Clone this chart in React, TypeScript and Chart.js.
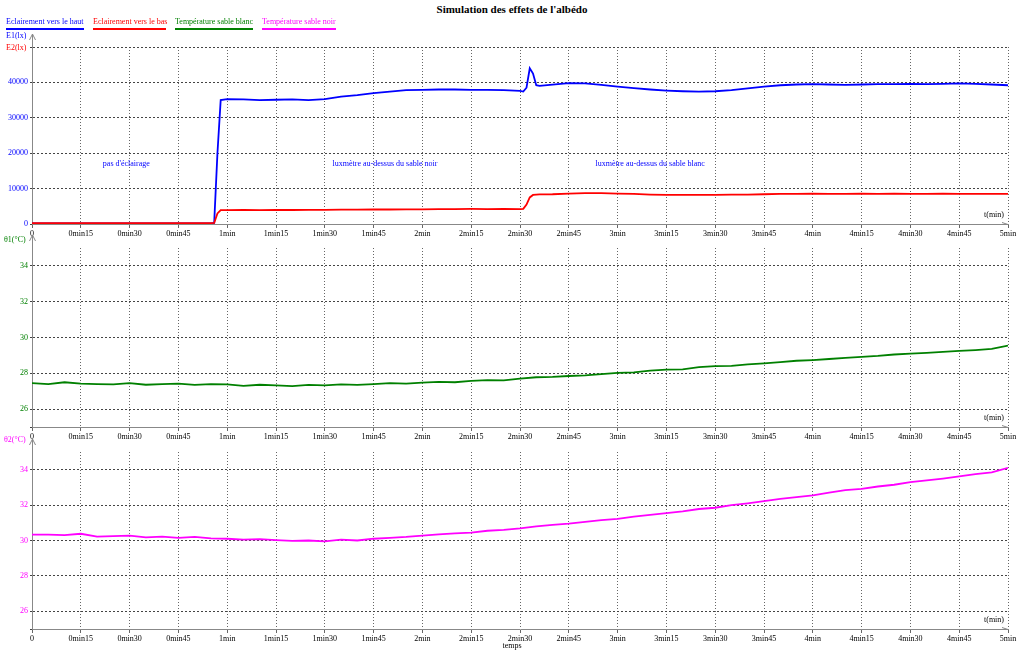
import { useEffect, useRef } from "react";
import { Chart, registerables } from "chart.js";

Chart.register(...registerables);

const FONT = '"Liberation Serif", "Times New Roman", serif';

// ---------- DATA ----------
const timeE = [0, 5, 10, 15, 20, 25, 30, 35, 40, 45, 50, 55, 56, 57, 58, 60, 65, 70, 75, 80, 85, 90, 95, 100, 105, 110, 115, 120, 125, 130, 135, 140, 145, 150, 151, 152, 153, 154, 155, 156, 160, 165, 170, 175, 180, 185, 190, 195, 200, 205, 210, 215, 220, 225, 230, 235, 240, 245, 250, 255, 260, 265, 270, 275, 280, 285, 290, 295, 300];

const e1Values = [150, 150, 160, 150, 150, 160, 150, 150, 160, 150, 150, 160, 300, 20000, 35000, 35300, 35200, 35000, 35100, 35200, 35000, 35300, 36000, 36400, 37000, 37400, 37800, 37900, 38000, 38000, 37900, 37900, 37800, 37600, 37400, 38500, 44000, 42500, 39200, 39000, 39400, 39800, 39700, 39300, 38800, 38400, 38000, 37700, 37500, 37400, 37500, 37800, 38300, 38800, 39200, 39400, 39500, 39400, 39300, 39400, 39500, 39500, 39600, 39500, 39600, 39700, 39600, 39400, 39200];

const e2Values = [250, 260, 240, 260, 250, 240, 260, 250, 240, 260, 250, 250, 300, 3000, 3900, 3900, 3950, 3900, 3950, 3950, 4000, 4000, 4050, 4050, 4100, 4100, 4150, 4150, 4200, 4200, 4250, 4200, 4300, 4200, 4300, 5500, 7500, 8200, 8300, 8350, 8400, 8600, 8700, 8700, 8600, 8500, 8300, 8200, 8200, 8200, 8200, 8300, 8300, 8400, 8500, 8500, 8600, 8500, 8500, 8600, 8500, 8600, 8500, 8500, 8600, 8500, 8500, 8500, 8500];

const timeT = [0, 5, 10, 15, 20, 25, 30, 35, 40, 45, 50, 55, 60, 65, 70, 75, 80, 85, 90, 95, 100, 105, 110, 115, 120, 125, 130, 135, 140, 145, 150, 155, 160, 165, 170, 175, 180, 185, 190, 195, 200, 205, 210, 215, 220, 225, 230, 235, 240, 245, 250, 255, 260, 265, 270, 275, 280, 285, 290, 295, 300];

const theta1Values = [27.45, 27.40, 27.50, 27.42, 27.40, 27.38, 27.45, 27.36, 27.40, 27.42, 27.35, 27.40, 27.38, 27.30, 27.36, 27.33, 27.28, 27.35, 27.32, 27.38, 27.35, 27.40, 27.45, 27.42, 27.48, 27.52, 27.50, 27.58, 27.62, 27.60, 27.70, 27.78, 27.80, 27.85, 27.88, 27.95, 28.02, 28.05, 28.15, 28.20, 28.22, 28.35, 28.40, 28.42, 28.50, 28.55, 28.62, 28.70, 28.74, 28.80, 28.86, 28.92, 28.97, 29.05, 29.10, 29.14, 29.20, 29.25, 29.30, 29.36, 29.55];

const theta2Values = [30.33, 30.33, 30.30, 30.38, 30.22, 30.25, 30.28, 30.18, 30.22, 30.15, 30.20, 30.12, 30.10, 30.05, 30.08, 30.02, 29.98, 30.00, 29.95, 30.05, 30.00, 30.10, 30.15, 30.20, 30.28, 30.35, 30.40, 30.45, 30.55, 30.60, 30.68, 30.80, 30.88, 30.95, 31.05, 31.15, 31.22, 31.35, 31.45, 31.55, 31.65, 31.78, 31.85, 32.00, 32.10, 32.22, 32.35, 32.45, 32.55, 32.70, 32.85, 32.92, 33.05, 33.15, 33.30, 33.40, 33.50, 33.62, 33.75, 33.85, 34.10];

const xTickValues = [0, 15, 30, 45, 60, 75, 90, 105, 120, 135, 150, 165, 180, 195, 210, 225, 240, 255, 270, 285, 300];
const eTickValues = [0, 10000, 20000, 30000, 40000, 50000];
const thetaTickValues = [25, 26, 28, 30, 32, 34, 35];

const legendLabels = ["Eclairement vers le haut", "Eclairement vers le bas", "Température sable blanc", "Température sable noir"];
const seriesColors = ["#0000ff", "#ff0000", "#008000", "#ff00ff"];

const annotationTexts = ["pas d'éclairage", "luxmètre au-dessus du sable noir", "luxmètre au-dessus du sable blanc"];
const annotationTimes = [29, 108.5, 190];
const annotationLevel = 17000;

// ---------- HELPERS ----------
function formatTime(v: number): string {
  if (v === 0) return "0";
  const m = Math.floor(v / 60);
  const r = v % 60;
  return r === 0 ? `${m}min` : `${m}min${r}`;
}

function decorPlugin(withAnnotations: boolean) {
  return {
    id: "decor",
    afterDraw(chart: any) {
      const { ctx, chartArea: a } = chart;
      ctx.save();
      ctx.strokeStyle = "#888";
      ctx.lineWidth = 1;
      const x0 = Math.round(a.left) + 0.5;
      const topY = a.top - 13;
      ctx.beginPath();
      ctx.moveTo(x0, a.top);
      ctx.lineTo(x0, topY);
      ctx.stroke();
      ctx.beginPath();
      ctx.moveTo(x0 - 3, topY + 6);
      ctx.lineTo(x0, topY);
      ctx.lineTo(x0 + 3, topY + 6);
      ctx.stroke();
      const yb = Math.round(a.bottom) + 0.5;
      ctx.beginPath();
      ctx.moveTo(a.right - 6, yb - 2);
      ctx.lineTo(a.right, yb);
      ctx.stroke();

      ctx.fillStyle = "#000";
      ctx.font = `8px ${FONT}`;
      ctx.textAlign = "right";
      ctx.textBaseline = "alphabetic";
      ctx.fillText("t(min)", a.right - 4, a.bottom - 7);

      if (withAnnotations) {
        const xs = chart.scales.x;
        const ys = chart.scales.y;
        ctx.fillStyle = "#0000ff";
        ctx.textAlign = "center";
        ctx.textBaseline = "middle";
        annotationTexts.forEach((t, i) => {
          ctx.fillText(t, xs.getPixelForValue(annotationTimes[i]), ys.getPixelForValue(annotationLevel));
        });
      }
      ctx.restore();
    },
  };
}

function buildOptions(p: {
  yMin: number;
  yMax: number;
  yTicks: number[];
  yColor: string;
  padTop: number;
  xHeight: number;
  hideTop: boolean;
}) {
  return {
    responsive: false,
    animation: false,
    layout: { padding: { top: p.padTop, right: 16, left: 0, bottom: 0 } },
    plugins: {
      legend: { display: false },
      title: { display: false },
      tooltip: { enabled: false },
    },
    elements: { point: { radius: 0 }, line: { tension: 0, borderWidth: 1.8 } },
    scales: {
      x: {
        type: "linear",
        min: 0,
        max: 300,
        afterBuildTicks: (s: any) => {
          s.ticks = xTickValues.map((v) => ({ value: v }));
        },
        afterFit: (s: any) => {
          s.height = p.xHeight;
        },
        ticks: {
          autoSkip: false,
          maxRotation: 0,
          minRotation: 0,
          color: "#000",
          padding: 1,
          font: { family: FONT, size: 8 },
          callback: (v: any) => formatTime(Number(v)),
        },
        grid: { color: "#666", lineWidth: 1, tickLength: 4, drawTicks: true },
        border: { display: true, color: "#888", width: 1, dash: [1, 2] },
      },
      y: {
        type: "linear",
        min: p.yMin,
        max: p.yMax,
        afterBuildTicks: (s: any) => {
          s.ticks = p.yTicks.map((v) => ({ value: v }));
        },
        afterFit: (s: any) => {
          s.width = 32;
        },
        ticks: {
          color: p.yColor,
          padding: 2,
          font: { family: FONT, size: 8 },
          callback: (v: any) => {
            const n = Number(v);
            if (n === p.yMax) return "";
            if (p.hideTop && n === p.yMin) return "";
            return String(n);
          },
        },
        grid: {
          color: (c: any) => (p.hideTop && c.tick && c.tick.value === p.yMax ? "rgba(0,0,0,0)" : "#444"),
          lineWidth: 1,
          tickLength: 2,
        },
        border: { display: true, color: "#888", width: 1, dash: [2, 2] },
      },
    },
  };
}

const W = 1024;

export default function App() {
  const c1 = useRef<HTMLCanvasElement>(null);
  const c2 = useRef<HTMLCanvasElement>(null);
  const c3 = useRef<HTMLCanvasElement>(null);

  useEffect(() => {
    Chart.defaults.font.family = FONT;
    Chart.defaults.font.size = 8;
    const charts: Chart[] = [];

    charts.push(
      new Chart(c1.current as HTMLCanvasElement, {
        type: "line",
        data: {
          datasets: [
            {
              label: legendLabels[1],
              data: timeE.map((t, i) => ({ x: t, y: e2Values[i] })),
              borderColor: seriesColors[1],
              backgroundColor: seriesColors[1],
            },
            {
              label: legendLabels[0],
              data: timeE.map((t, i) => ({ x: t, y: e1Values[i] })),
              borderColor: seriesColors[0],
              backgroundColor: seriesColors[0],
            },
          ],
        },
        options: buildOptions({ yMin: 0, yMax: 50000, yTicks: eTickValues, yColor: "#0000ff", padTop: 27, xHeight: 18, hideTop: false }) as any,
        plugins: [decorPlugin(true)],
      })
    );

    charts.push(
      new Chart(c2.current as HTMLCanvasElement, {
        type: "line",
        data: {
          datasets: [
            {
              label: legendLabels[2],
              data: timeT.map((t, i) => ({ x: t, y: theta1Values[i] })),
              borderColor: seriesColors[2],
              backgroundColor: seriesColors[2],
            },
          ],
        },
        options: buildOptions({ yMin: 25, yMax: 35, yTicks: thetaTickValues, yColor: "#008000", padTop: 20, xHeight: 18, hideTop: true }) as any,
        plugins: [decorPlugin(false)],
      })
    );

    charts.push(
      new Chart(c3.current as HTMLCanvasElement, {
        type: "line",
        data: {
          datasets: [
            {
              label: legendLabels[3],
              data: timeT.map((t, i) => ({ x: t, y: theta2Values[i] })),
              borderColor: seriesColors[3],
              backgroundColor: seriesColors[3],
            },
          ],
        },
        options: buildOptions({ yMin: 25, yMax: 35, yTicks: thetaTickValues, yColor: "#ff00ff", padTop: 20, xHeight: 23, hideTop: true }) as any,
        plugins: [decorPlugin(false)],
      })
    );

    return () => charts.forEach((c) => c.destroy());
  }, []);

  const txt = (extra: any) => ({
    position: "absolute" as const,
    fontFamily: FONT,
    fontSize: 8,
    lineHeight: "10px",
    whiteSpace: "nowrap" as const,
    ...extra,
  });

  const legendX = [6, 93, 175, 262];
  const legendW = [78, 73, 78, 74];

  return (
    <div style={{ position: "absolute", left: 0, top: 0, width: W, height: 652, background: "#fff", overflow: "hidden" }}>
      <canvas ref={c1} width={W} height={222} style={{ position: "absolute", left: 0, top: 20 }} />
      <canvas ref={c2} width={W} height={217} style={{ position: "absolute", left: 0, top: 228 }} />
      <canvas ref={c3} width={W} height={220} style={{ position: "absolute", left: 0, top: 432 }} />

      <div style={txt({ left: 0, top: 3, width: W, textAlign: "center", fontSize: 11, lineHeight: "13px", fontWeight: "bold", color: "#000" })}>
        Simulation des effets de l'albédo
      </div>

      {legendLabels.map((l, i) => (
        <div key={l}>
          <div style={txt({ left: legendX[i], top: 17, color: seriesColors[i] })}>{l}</div>
          <div style={{ position: "absolute", left: legendX[i], top: 28, width: legendW[i], height: 2, background: seriesColors[i] }} />
        </div>
      ))}

      <div style={txt({ left: 6, top: 31, color: "#0000ff" })}>E1(lx)</div>
      <div style={txt({ left: 6, top: 43, color: "#ff0000" })}>E2(lx)</div>
      <div style={txt({ left: 4, top: 235, color: "#008000" })}>θ1(°C)</div>
      <div style={txt({ left: 4, top: 435, color: "#ff00ff" })}>θ2(°C)</div>
      <div style={txt({ left: 0, top: 641, width: W, textAlign: "center", color: "#000" })}>temps</div>
    </div>
  );
}
